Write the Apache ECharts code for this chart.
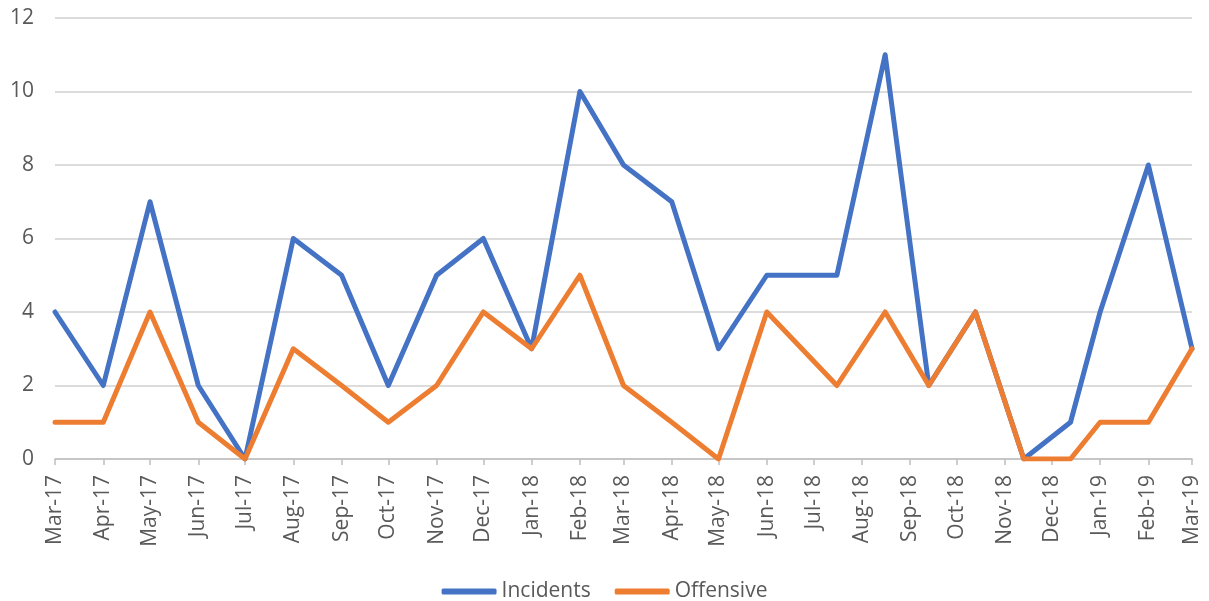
<!DOCTYPE html>
<html>
<head>
<meta charset="utf-8">
<script src="https://cdn.jsdelivr.net/npm/echarts@6/dist/echarts.min.js"></script>
<style>
  html, body { margin: 0; padding: 0; background: #fff; }
  #lineChart { width: 1209px; height: 601px; }
</style>
</head>
<body>
<div id="lineChart"></div>
<script>
var lineChart = echarts.init(document.getElementById("lineChart"));

// dates of the data points (date axis, some points fall mid-month)
let dates = [
  "2017-03-01", "2017-04-01", "2017-05-01", "2017-06-01", "2017-07-01",
  "2017-08-01", "2017-09-01", "2017-10-01", "2017-11-01", "2017-12-01",
  "2018-01-01", "2018-02-01", "2018-03-01", "2018-04-01", "2018-05-01",
  "2018-06-01", "2018-07-16", "2018-08-16", "2018-09-13", "2018-10-13",
  "2018-11-13", "2018-12-13", "2019-01-01", "2019-02-01", "2019-03-01"
];

let incidents = [4, 2, 7, 2, 0, 6, 5, 2, 5, 6, 3, 10, 8, 7, 3, 5, 5, 11, 2, 4, 0, 1, 4, 8, 3];
let offensive = [1, 1, 4, 1, 0, 3, 2, 1, 2, 4, 3, 5, 2, 1, 0, 4, 2, 4, 2, 4, 0, 0, 1, 1, 3];

let tickLabels = [
  "Mar-17", "Apr-17", "May-17", "Jun-17", "Jul-17", "Aug-17", "Sep-17", "Oct-17",
  "Nov-17", "Dec-17", "Jan-18", "Feb-18", "Mar-18", "Apr-18", "May-18", "Jun-18",
  "Jul-18", "Aug-18", "Sep-18", "Oct-18", "Nov-18", "Dec-18", "Jan-19", "Feb-19", "Mar-19"
];

let yTicks = { min: 0, max: 12, step: 2 };

function pairs(values) {
  return values.map((v, i) => [dates[i], v]);
}

const DAY = 24 * 3600 * 1000;
const textColor = "#595959";
const font = "Open Sans";

lineChart.setOption({
  animation: false,
  textStyle: { fontFamily: font },
  grid: {
    left: 55,
    right: 17,
    top: 18,
    bottom: 142
  },
  legend: {
    left: "center",
    top: 576,
    icon: "roundRect",
    itemWidth: 55,
    itemHeight: 6,
    itemGap: 24,
    textStyle: { color: textColor, fontSize: 21, fontFamily: font }
  },
  xAxis: {
    type: "time",
    min: dates[0],
    max: dates[dates.length - 1],
    splitNumber: 24,
    minInterval: 28 * DAY,
    maxInterval: 31 * DAY,
    axisLine: { lineStyle: { color: "#bfbfbf", width: 1.5 } },
    axisTick: { show: true, length: 6, lineStyle: { color: "#bfbfbf", width: 1.5 } },
    splitLine: { show: false },
    axisLabel: {
      rotate: 90,
      margin: 16,
      color: textColor,
      fontSize: 21,
      fontFamily: font,
      hideOverlap: false,
      formatter: function (value) {
        var d = new Date(value);
        var i = (d.getFullYear() - 2017) * 12 + d.getMonth() - 2;
        return tickLabels[i] || "";
      }
    }
  },
  yAxis: {
    type: "value",
    min: yTicks.min,
    max: yTicks.max,
    interval: yTicks.step,
    axisLine: { show: false },
    axisTick: { show: false },
    splitLine: { lineStyle: { color: "#d0d0d0", width: 1.5 } },
    axisLabel: { color: textColor, fontSize: 21, fontFamily: font, margin: 21 }
  },
  series: [
    {
      name: "Incidents",
      type: "line",
      color: "#4472C4",
      showSymbol: false,
      lineStyle: { width: 5, cap: "round", join: "round" },
      data: pairs(incidents)
    },
    {
      name: "Offensive",
      type: "line",
      color: "#ED7D31",
      showSymbol: false,
      lineStyle: { width: 5, cap: "round", join: "round" },
      data: pairs(offensive)
    }
  ]
});
</script>
</body>
</html>
